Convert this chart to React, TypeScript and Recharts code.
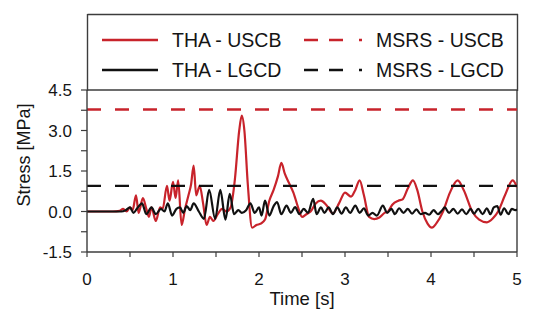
import React from 'react';
import { ComposedChart, Line, XAxis, YAxis, ReferenceLine, Label } from 'recharts';

// ---- data ----
const timeTicks = [0, 0.5, 1, 1.5, 2, 2.5, 3, 3.5, 4, 4.5, 5];
const stressTicks = [-1.5, -0.75, 0, 0.75, 1.5, 2.25, 3, 3.75, 4.5];

const thaUscb: [number, number][] = [
  [0, 0], [0.3, 0], [0.38, 0.02], [0.42, 0.1], [0.46, 0.0], [0.5, 0.15], [0.53, 0.05],
  [0.57, 0.6], [0.6, -0.05], [0.65, 0.5], [0.69, 0.1], [0.72, -0.2], [0.75, 0.15],
  [0.8, -0.35], [0.85, 0.15], [0.88, 0.1], [0.93, 0.95], [0.96, 0.4], [1.0, 1.1],
  [1.03, 0.5], [1.06, 1.15], [1.1, -0.5], [1.14, 0.1], [1.18, 0.6], [1.21, 1.0],
  [1.24, 1.7], [1.27, 0.6], [1.31, 0.95], [1.35, 0.3], [1.39, -0.5], [1.43, -0.2],
  [1.47, -0.35], [1.52, -0.1], [1.57, 0.1], [1.62, 0.0], [1.67, 0.15], [1.72, 1.2],
  [1.77, 3.0], [1.8, 3.55], [1.83, 3.0], [1.87, 1.0], [1.92, -0.6], [1.97, -0.5],
  [2.02, -0.45], [2.07, -0.3], [2.12, 0.4], [2.17, 0.8], [2.22, 1.3], [2.26, 1.8],
  [2.3, 1.4], [2.35, 1.05], [2.4, 0.7], [2.46, 0.1], [2.5, -0.2], [2.55, -0.1],
  [2.6, 0.0], [2.66, 0.3], [2.72, 0.4], [2.78, 0.25], [2.86, -0.07], [2.93, 0.3],
  [3.0, 0.7], [3.07, 0.55], [3.12, 0.8], [3.17, 1.15], [3.22, 0.6], [3.28, -0.2],
  [3.34, -0.28], [3.4, -0.22], [3.46, -0.05], [3.5, 0.0], [3.55, 0.25], [3.62, 0.4],
  [3.67, 0.45], [3.73, 0.85], [3.79, 1.15], [3.84, 0.8], [3.9, 0.0], [3.96, -0.45],
  [4.01, -0.6], [4.06, -0.45], [4.14, 0.0], [4.22, 0.7], [4.31, 1.15], [4.38, 0.8],
  [4.48, 0.0], [4.56, -0.3], [4.65, -0.4], [4.72, -0.25], [4.78, 0.0], [4.86, 0.6],
  [4.95, 1.15], [5.0, 0.9],
];

const thaLgcd: [number, number][] = [
  [0, 0], [0.4, 0], [0.45, 0.05], [0.5, 0.15], [0.54, -0.05], [0.58, 0.1], [0.64, 0.3],
  [0.69, -0.1], [0.75, 0.15], [0.8, -0.1], [0.86, 0.1], [0.9, 0.0], [0.94, 0.3],
  [0.99, -0.15], [1.04, 0.1], [1.08, 0.15], [1.12, -0.05], [1.16, 0.2], [1.2, 0.05],
  [1.24, 0.3], [1.3, 0.0], [1.36, -0.27], [1.42, 0.8], [1.49, -0.27], [1.55, 0.8],
  [1.61, -0.3], [1.66, 0.65], [1.71, -0.1], [1.76, 0.05], [1.8, -0.05], [1.85, 0.05],
  [1.9, 0.3], [1.95, -0.05], [2.0, 0.15], [2.03, -0.15], [2.07, 0.4], [2.12, -0.15],
  [2.17, 0.2], [2.21, 0.35], [2.26, -0.1], [2.32, 0.22], [2.37, -0.05], [2.42, 0.16],
  [2.47, -0.1], [2.52, 0.1], [2.57, -0.05], [2.63, 0.47], [2.67, -0.1], [2.72, 0.15],
  [2.76, -0.05], [2.81, 0.15], [2.86, -0.1], [2.91, 0.15], [2.96, -0.08], [3.01, 0.15],
  [3.06, -0.05], [3.12, 0.22], [3.17, -0.05], [3.22, 0.12], [3.27, -0.15], [3.32, -0.05],
  [3.37, -0.15], [3.44, 0.22], [3.49, -0.05], [3.54, 0.1], [3.58, -0.1], [3.63, 0.12],
  [3.68, -0.05], [3.73, 0.1], [3.78, -0.08], [3.83, 0.08], [3.88, -0.1], [3.93, -0.05],
  [3.98, -0.12], [4.03, 0.05], [4.08, -0.1], [4.13, 0.05], [4.16, 0.15], [4.21, -0.05],
  [4.26, 0.1], [4.31, -0.08], [4.36, 0.08], [4.41, -0.1], [4.46, 0.1], [4.5, -0.08],
  [4.55, 0.1], [4.6, -0.1], [4.65, 0.12], [4.69, -0.1], [4.73, 0.15], [4.77, 0.2],
  [4.81, -0.12], [4.85, 0.12], [4.9, -0.1], [4.94, 0.1], [4.98, 0.05], [5.0, 0.08],
];

const msrsTime = [0, 5];
const msrsUscbLevel = 3.78;
const msrsLgcdLevel = 0.95;

const seriesNames = ['THA - USCB', 'MSRS - USCB', 'THA - LGCD', 'MSRS - LGCD'];

// ---- styling ----
const RED = '#c8232b';
const BLACK = '#111111';
const FRAME = '#3c3c3c';
const TEXT = '#151515';
const FONT = '"Liberation Sans", Arial, Helvetica, sans-serif';

const toRows = (pts: [number, number][]) => pts.map(([t, v]) => ({ t, v }));
const flatRows = (level: number) => msrsTime.map((t) => ({ t, v: level }));

const isMajorStress = (v: number) => Math.abs(v / 1.5 - Math.round(v / 1.5)) < 1e-6;

const LegendBox = () => {
  const rowY = [26, 56];
  const col1 = { line: [15, 71], text: 85 };
  const col2 = { line: [217, 275], text: 289 };
  const items = [
    { name: seriesNames[0], color: RED, dashed: false, col: col1, row: 0 },
    { name: seriesNames[1], color: RED, dashed: true, col: col2, row: 0 },
    { name: seriesNames[2], color: BLACK, dashed: false, col: col1, row: 1 },
    { name: seriesNames[3], color: BLACK, dashed: true, col: col2, row: 1 },
  ];
  return (
    <svg
      width={432}
      height={77}
      style={{ position: 'absolute', left: 87, top: 14, overflow: 'visible' }}
    >
      <line x1={0.5} y1={0.5} x2={431} y2={0.5} stroke={FRAME} strokeWidth={1.4} />
      <line x1={0.5} y1={0} x2={0.5} y2={77} stroke={FRAME} strokeWidth={1.4} />
      <line x1={430.5} y1={0} x2={430.5} y2={77} stroke={FRAME} strokeWidth={1.4} />
      {items.map((it) => (
        <g key={it.name}>
          <line
            x1={it.col.line[0]}
            x2={it.col.line[1]}
            y1={rowY[it.row]}
            y2={rowY[it.row]}
            stroke={it.color}
            strokeWidth={2.4}
            strokeDasharray={it.dashed ? '14 11 14 16 3 20' : undefined}
          />
          <text
            x={it.col.text}
            y={rowY[it.row]}
            dy="0.36em"
            fontSize={19.5}
            fontFamily={FONT}
            fill={TEXT}
          >
            {it.name}
          </text>
        </g>
      ))}
    </svg>
  );
};

export default function App() {
  return (
    <div
      style={{
        position: 'absolute',
        left: 0,
        top: 0,
        width: 550,
        height: 323,
        background: '#fff',
      }}
    >
      <ComposedChart
        width={550}
        height={323}
        margin={{ top: 90, right: 33, bottom: 0, left: 0 }}
      >
        <XAxis
          dataKey="t"
          type="number"
          domain={[0, 5]}
          ticks={timeTicks}
          interval={0}
          allowDataOverflow
          height={71}
          tickFormatter={(v: number) => (Number.isInteger(v) ? String(v) : '')}
          tickSize={5}
          tickMargin={16}
          tick={{ fontSize: 17, fontFamily: FONT, fill: TEXT }}
          axisLine={{ stroke: FRAME, strokeWidth: 1.4 }}
          tickLine={{ stroke: FRAME, strokeWidth: 1.2 }}
        >
          <Label
            content={({ viewBox }: any) => (
              <text
                x={viewBox.x + viewBox.width / 2}
                y={viewBox.y + 53}
                textAnchor="middle"
                fontSize={18.5}
                fontFamily={FONT}
                fill={TEXT}
              >
                Time [s]
              </text>
            )}
          />
        </XAxis>
        <YAxis
          type="number"
          domain={[-1.5, 4.5]}
          ticks={stressTicks}
          interval={0}
          allowDataOverflow
          width={87}
          tickFormatter={(v: number) => (isMajorStress(v) ? v.toFixed(1) : '')}
          tickSize={6}
          tickMargin={9}
          tick={{ fontSize: 17, fontFamily: FONT, fill: TEXT }}
          axisLine={{ stroke: FRAME, strokeWidth: 1.4 }}
          tickLine={{ stroke: FRAME, strokeWidth: 1.2 }}
        >
          <Label
            content={({ viewBox }: any) => {
              const x = viewBox.x + 30;
              const y = viewBox.y + viewBox.height / 2 - 16;
              return (
                <text
                  x={x}
                  y={y}
                  transform={`rotate(-90 ${x} ${y})`}
                  textAnchor="middle"
                  fontSize={18}
                  fontFamily={FONT}
                  fill={TEXT}
                >
                  Stress [MPa]
                </text>
              );
            }}
          />
        </YAxis>
        <ReferenceLine y={4.5} stroke={FRAME} strokeWidth={1.4} ifOverflow="visible" />
        <ReferenceLine x={5} stroke={FRAME} strokeWidth={1.4} ifOverflow="visible" />
        <Line
          data={toRows(thaUscb)}
          dataKey="v"
          type="monotone"
          stroke={RED}
          strokeWidth={2.2}
          dot={false}
          activeDot={false}
          isAnimationActive={false}
        />
        <Line
          data={flatRows(msrsUscbLevel)}
          dataKey="v"
          type="linear"
          stroke={RED}
          strokeWidth={2.4}
          strokeDasharray="14 14"
          dot={false}
          activeDot={false}
          isAnimationActive={false}
        />
        <Line
          data={toRows(thaLgcd)}
          dataKey="v"
          type="monotone"
          stroke={BLACK}
          strokeWidth={2.2}
          dot={false}
          activeDot={false}
          isAnimationActive={false}
        />
        <Line
          data={flatRows(msrsLgcdLevel)}
          dataKey="v"
          type="linear"
          stroke={BLACK}
          strokeWidth={2.4}
          strokeDasharray="14 14"
          dot={false}
          activeDot={false}
          isAnimationActive={false}
        />
      </ComposedChart>
      <LegendBox />
    </div>
  );
}
